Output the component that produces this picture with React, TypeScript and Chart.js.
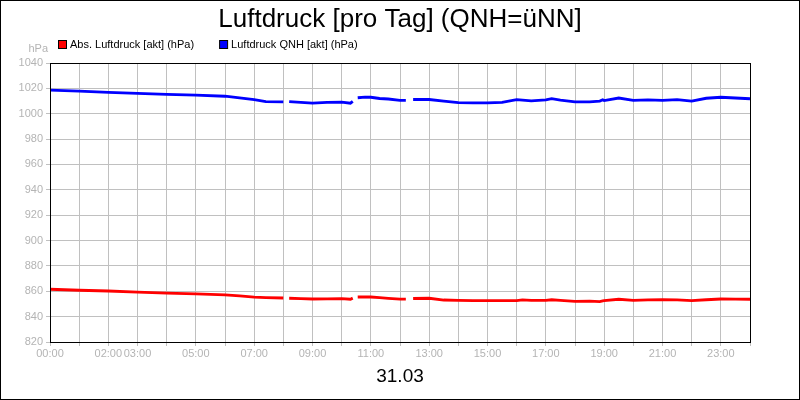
import React, { useRef, useEffect } from 'react';
import { Chart, registerables } from 'chart.js';
import type { ChartConfiguration, Plugin } from 'chart.js';

Chart.register(...registerables);

const FONT = "'Liberation Sans', Arial, sans-serif";
const GRAY = '#b4b4b4';

// time of day in hours; null values mark gaps in the recording
const hours = [
  0, 1, 2, 3, 4, 5, 6, 6.5, 7, 7.4, 8, 8.05, 8.2, 8.6, 9, 9.5, 10, 10.3, 10.38, 10.45,
  10.55, 10.8, 11, 11.3, 11.6, 12, 12.2, 12.3, 12.45, 13, 13.5, 14, 14.5, 15, 15.5, 16,
  16.2, 16.5, 17, 17.2, 17.5, 18, 18.5, 18.85, 18.95, 19, 19.5, 20, 20.5, 21, 21.5, 22,
  22.5, 23, 23.5, 24,
];

const absPressure = [
  861.6, 860.8, 860.2, 859.4, 858.6, 857.9, 857.1, 856.3, 855.4, 855.0, 854.7, null, 854.5,
  854.2, 853.9, 854.0, 854.2, 853.7, 854.6, null, 855.5, 855.6, 855.5, 855.0, 854.4, 853.8,
  853.8, null, 854.3, 854.5, 853.1, 852.9, 852.7, 852.6, 852.7, 852.6, 853.2, 852.8, 852.9,
  853.3, 852.9, 852.1, 852.2, 851.8, 852.4, 852.6, 853.7, 852.9, 853.2, 853.4, 853.2, 852.6,
  853.3, 853.9, 853.8, 853.7,
];

const qnhPressure = [
  1018.6, 1017.8, 1016.9, 1016.0, 1015.2, 1014.6, 1013.8, 1012.5, 1011.2, 1009.6, 1009.4, null,
  1009.6, 1009.0, 1008.4, 1009.0, 1009.2, 1008.3, 1009.8, null, 1012.6, 1013.1, 1013.0, 1012.0,
  1011.6, 1010.6, 1010.6, null, 1011.2, 1011.2, 1010.0, 1008.8, 1008.5, 1008.5, 1009.0, 1011.1,
  1010.8, 1010.1, 1010.9, 1011.9, 1010.8, 1009.4, 1009.3, 1010.0, 1011.0, 1010.4, 1012.4, 1010.6,
  1011.0, 1010.6, 1011.1, 1010.0, 1012.2, 1013.0, 1012.4, 1011.8,
];

const labelHours = [0, 2, 3, 5, 7, 9, 11, 13, 15, 17, 19, 21, 23];
const tickLabels = [
  '00:00', '02:00', '03:00', '05:00', '07:00', '09:00', '11:00',
  '13:00', '15:00', '17:00', '19:00', '21:00', '23:00',
];

const seriesNames = ['Abs. Luftdruck [akt] (hPa)', 'Luftdruck QNH [akt] (hPa)'];
const seriesColors = ['#ff0000', '#0000ff'];

// outer border, plot frame, unit label and the small legend row
const framePlugin: Plugin = {
  id: 'frame',
  afterDraw(chart) {
    const { ctx, chartArea } = chart;
    ctx.save();
    ctx.strokeStyle = '#000';
    ctx.lineWidth = 1;
    ctx.strokeRect(0.5, 0.5, chart.width - 1, chart.height - 1);
    ctx.strokeRect(
      Math.round(chartArea.left) + 0.5,
      Math.round(chartArea.top) + 0.5,
      Math.round(chartArea.right - chartArea.left),
      Math.round(chartArea.bottom - chartArea.top)
    );

    ctx.font = `11px ${FONT}`;
    ctx.textBaseline = 'middle';
    ctx.fillStyle = GRAY;
    ctx.textAlign = 'right';
    ctx.fillText('hPa', chartArea.left - 2, 49);

    ctx.textAlign = 'left';
    let x = 58;
    chart.data.datasets.forEach((ds) => {
      ctx.fillStyle = ds.borderColor as string;
      ctx.fillRect(x + 0.5, 40.5, 8, 8);
      ctx.strokeStyle = '#000';
      ctx.strokeRect(x + 0.5, 40.5, 8, 8);
      ctx.fillStyle = '#000';
      const label = ds.label ?? '';
      ctx.fillText(label, x + 12, 44.5);
      x += 12 + ctx.measureText(label).width + 25;
    });
    ctx.restore();
  },
};

const App: React.FC = () => {
  const canvasRef = useRef<HTMLCanvasElement>(null);

  useEffect(() => {
    document.body.style.margin = '0';
    if (!canvasRef.current) return;

    const config: ChartConfiguration<'line'> = {
      type: 'line',
      data: {
        datasets: [
          {
            label: seriesNames[0],
            data: hours.map((h, i) => ({ x: h, y: absPressure[i] as number })),
            borderColor: seriesColors[0],
            backgroundColor: seriesColors[0],
          },
          {
            label: seriesNames[1],
            data: hours.map((h, i) => ({ x: h, y: qnhPressure[i] as number })),
            borderColor: seriesColors[1],
            backgroundColor: seriesColors[1],
          },
        ],
      },
      options: {
        responsive: true,
        maintainAspectRatio: false,
        animation: false,
        spanGaps: false,
        elements: {
          point: { radius: 0 },
          line: { borderWidth: 2.8, tension: 0 },
        },
        layout: { padding: { left: 0, right: 50, top: 0, bottom: 0 } },
        plugins: {
          title: {
            display: true,
            text: 'Luftdruck [pro Tag] (QNH=üNN]',
            color: '#000',
            fullSize: false,
            font: { family: FONT, size: 26, weight: 'normal' },
            padding: { top: 4, bottom: 27.8 },
          },
          legend: { display: false },
          tooltip: { enabled: false },
        },
        scales: {
          x: {
            type: 'linear',
            min: 0,
            max: 24,
            afterFit: (scale) => {
              scale.height = 58;
            },
            grid: { color: '#c0c0c0', tickLength: 4 },
            border: { color: '#000' },
            ticks: {
              stepSize: 1,
              autoSkip: false,
              maxRotation: 0,
              padding: 1,
              color: GRAY,
              font: { family: FONT, size: 11 },
              callback: (value) => {
                const i = labelHours.indexOf(Number(value));
                return i >= 0 ? tickLabels[i] : '';
              },
            },
            title: {
              display: true,
              text: '31.03',
              color: '#000',
              font: { family: FONT, size: 19 },
              padding: { top: 0, bottom: 12 },
            },
          },
          y: {
            min: 820,
            max: 1040,
            afterFit: (scale) => {
              scale.width = 50;
            },
            grid: { color: '#c0c0c0', tickLength: 4 },
            border: { color: '#000' },
            ticks: {
              stepSize: 20,
              padding: 3,
              color: GRAY,
              font: { family: FONT, size: 11 },
              callback: (value) => String(value),
            },
          },
        },
      },
      plugins: [framePlugin],
    };

    const chart = new Chart(canvasRef.current, config);
    return () => {
      chart.destroy();
    };
  }, []);

  return (
    <div style={{ width: 800, height: 400, position: 'relative', background: '#fff' }}>
      <canvas ref={canvasRef}></canvas>
    </div>
  );
};

export default App;
